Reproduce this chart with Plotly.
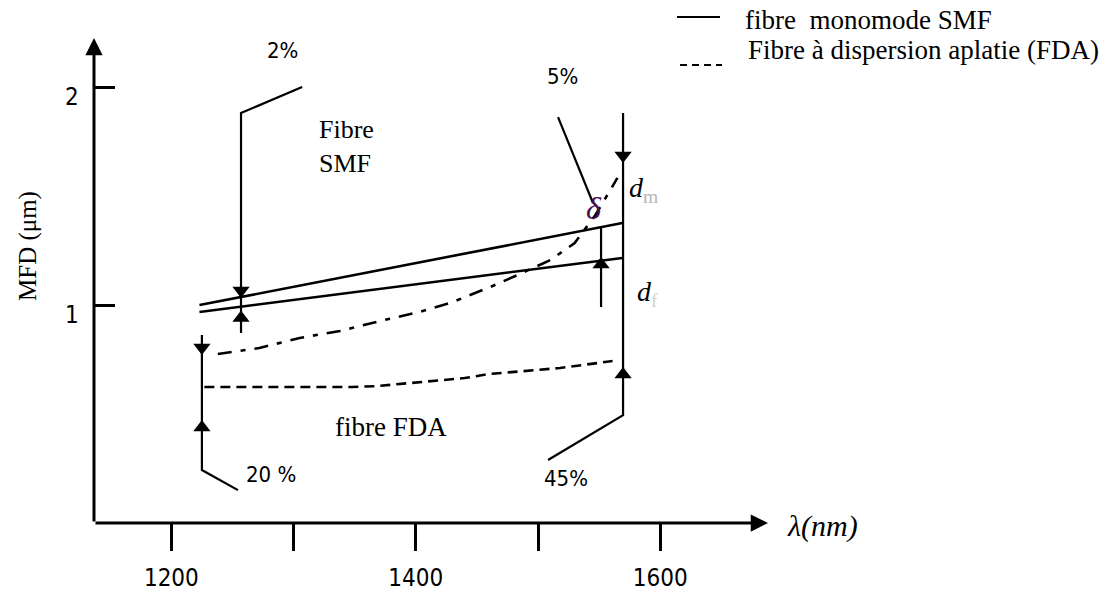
import plotly.graph_objects as go

W, H = 1104, 596

# ---- curves: wavelength (nm) vs MFD (µm) ----
smf_hi_x = [1223, 1569]
smf_hi_y = [1.000, 1.376]
smf_lo_x = [1223, 1569]
smf_lo_y = [0.968, 1.216]

fda_hi_x = [1238, 1272, 1305, 1338, 1371, 1403, 1428, 1461, 1485, 1510, 1530, 1547, 1565]
fda_hi_y = [0.775, 0.803, 0.849, 0.881, 0.927, 0.968, 1.009, 1.083, 1.142, 1.206, 1.284, 1.413, 1.583]

fda_lo_x = [1227, 1348, 1368, 1440, 1459, 1518, 1561]
fda_lo_y = [0.624, 0.624, 0.628, 0.665, 0.683, 0.711, 0.743]

# ---- dimension lines with their leaders ----
dim_2pct_x = [1307, 1257, 1257]
dim_2pct_y = [2.000, 1.881, 0.872]
dim_20pct_x = [1225, 1225, 1254.5]
dim_20pct_y = [0.862, 0.243, 0.151]
dim_45pct_x = [1569.6, 1569.6, 1508.2]
dim_45pct_y = [1.881, 0.495, 0.289]
dim_short_x = [1551.6, 1551.6]
dim_short_y = [1.358, 0.991]
lead_5pct_x = [1516.4, 1545.0]
lead_5pct_y = [1.862, 1.468]

# arrowheads on the dimension lines
head_down_x = [1257, 1225, 1569.6]
head_down_y = [1.067, 0.805, 1.686]
head_up_x = [1257, 1225, 1569.6, 1551.6]
head_up_y = [0.941, 0.438, 0.681, 1.186]

# ---- axes ----
x_range = [1136.7, 1688.2]
y_range = [0.0, 2.225]
x_ticks = [1200, 1400, 1600]
x_ticktext = ["1200", "1400", "1600"]
x_minor_step = 100
y_ticks = [1, 2]
y_ticktext = ["1", "2"]

BLACK = "#000000"
SERIF = "Liberation Serif, Times New Roman, serif"
NARROW = "DejaVu Sans Condensed, Liberation Sans Narrow, sans-serif"


def px(x):
    return x / W


def py(y):
    return 1 - y / H


fig = go.Figure()


def line(xs, ys, width=2.2, dash="solid"):
    fig.add_trace(go.Scatter(x=xs, y=ys, mode="lines",
                             line=dict(color=BLACK, width=width, dash=dash),
                             showlegend=False, hoverinfo="skip"))


line(smf_hi_x, smf_hi_y, 2.6)
line(smf_lo_x, smf_lo_y, 2.6)
line(fda_hi_x, fda_hi_y, 2.6, "14px,9px,5px,9px")
line(fda_lo_x, fda_lo_y, 2.6, "10px,6px")

for xs, ys in [(dim_2pct_x, dim_2pct_y), (dim_20pct_x, dim_20pct_y),
               (dim_45pct_x, dim_45pct_y), (dim_short_x, dim_short_y),
               (lead_5pct_x, lead_5pct_y)]:
    line(xs, ys, 2.2)

fig.add_trace(go.Scatter(x=head_down_x, y=head_down_y, mode="markers",
                         marker=dict(symbol="triangle-down", size=15, color=BLACK),
                         showlegend=False, hoverinfo="skip"))
fig.add_trace(go.Scatter(x=head_up_x, y=head_up_y, mode="markers",
                         marker=dict(symbol="triangle-up", size=15, color=BLACK),
                         showlegend=False, hoverinfo="skip"))

annotations = []

# both axis lines drawn as arrows from the origin corner
for tip_x, tip_y in [(x_range[1], y_range[0]), (x_range[0], y_range[1])]:
    annotations.append(dict(x=tip_x, y=tip_y, ax=x_range[0], ay=y_range[0],
                            xref="x", yref="y", axref="x", ayref="y",
                            text="", showarrow=True, arrowhead=2,
                            arrowsize=1.15, arrowwidth=3, arrowcolor=BLACK))


def label(text, x, y, size, family=NARROW, xanchor="center", color=BLACK, **kw):
    annotations.append(dict(text=text, x=px(x), y=py(y), xref="paper", yref="paper",
                            xanchor=xanchor, yanchor="middle", showarrow=False,
                            font=dict(family=family, size=size, color=color), **kw))


# y tick labels sit a little below their ticks
for v, t in zip(y_ticks, y_ticktext):
    annotations.append(dict(text=t, x=px(72), xref="paper", y=v, yref="y",
                            yshift=-10, showarrow=False, xanchor="center",
                            yanchor="middle",
                            font=dict(family=NARROW, size=24, color=BLACK)))

label("2%", 283, 51, 22)
label("5%", 562, 76, 22)
label("20 %", 271, 474, 22)
label("45%", 566, 478, 22)
label("Fibre<br>SMF", 317, 146, 26, SERIF, xanchor="left", align="left")
label("fibre FDA", 391, 427, 27, SERIF)
label("<i>λ(nm)</i>", 822, 526, 30, SERIF)
label("<i>d</i><sub><span style='color:#b8b8b8'>m</span></sub>", 643, 190, 28, SERIF)
label("<i>d</i><sub><span style='color:#d0d0d0'>f</span></sub>", 647, 293, 28, SERIF)
label("<i>δ</i>", 594, 208, 32, SERIF, color="#4a0c4a")
label("MFD (μm)", 28, 246, 25, SERIF, textangle=-90)

# key in the top right corner
label("fibre\u00a0 monomode SMF", 743, 20, 27, SERIF, xanchor="left")
label("Fibre à dispersion aplatie (FDA)", 746, 50, 27, SERIF, xanchor="left")

shapes = [
    dict(type="line", xref="paper", yref="paper", x0=px(677), x1=px(720),
         y0=py(17), y1=py(17), line=dict(color=BLACK, width=2)),
    dict(type="line", xref="paper", yref="paper", x0=px(680), x1=px(722),
         y0=py(65), y1=py(65), line=dict(color=BLACK, width=2, dash="7px,5px")),
]

fig.update_layout(
    width=W, height=H,
    margin=dict(l=0, r=0, t=0, b=0),
    paper_bgcolor="white", plot_bgcolor="white",
    showlegend=False,
    annotations=annotations,
    shapes=shapes,
    xaxis=dict(domain=[px(94), px(768)], range=x_range,
               showgrid=False, zeroline=False, showline=False,
               tickmode="array", tickvals=x_ticks, ticktext=x_ticktext,
               ticks="outside", ticklen=27, tickwidth=3, tickcolor=BLACK,
               minor=dict(tick0=x_ticks[0], dtick=x_minor_step, ticks="outside",
                          ticklen=27, tickwidth=3, tickcolor=BLACK),
               ticklabelstandoff=6,
               tickfont=dict(family=NARROW, size=24, color=BLACK)),
    yaxis=dict(domain=[1 - 523 / H, 1 - 38 / H], range=y_range,
               showgrid=False, zeroline=False, showline=False,
               tickvals=y_ticks, ticks="inside", ticklen=21, tickwidth=3,
               tickcolor=BLACK, showticklabels=False),
)

fig.write_html("out.html")
